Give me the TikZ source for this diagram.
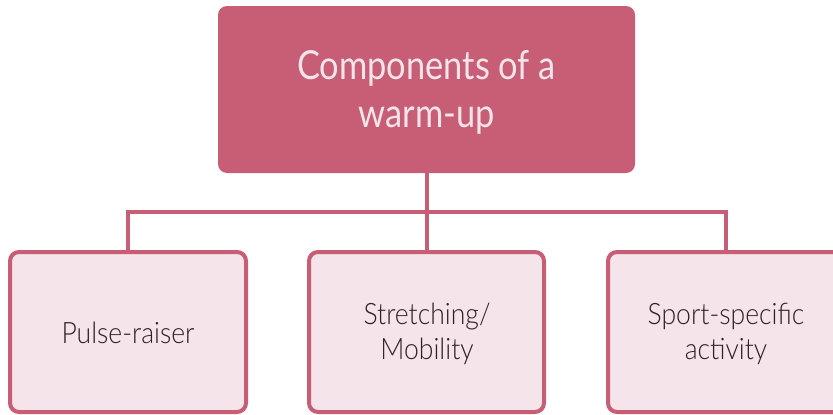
\documentclass[tikz,border=0pt]{standalone}
\usepackage{fontspec}
\setmainfont{Lato}
\newfontfamily\topfont[FakeStretch=0.86]{Lato}
\newfontfamily\botfont[FakeStretch=0.9]{Lato Light}
\definecolor{rose}{HTML}{C75E76}
\definecolor{paleRose}{HTML}{F5E4EA}
\definecolor{darkText}{HTML}{2B2127}
\tikzset{
  topbox/.style={fill=rose, draw=none, rounded corners=9pt},
  toptext/.style={text=paleRose, font=\topfont\fontsize{40}{48}\selectfont, align=center},
  childbox/.style={fill=paleRose, draw=rose, line width=4pt, rounded corners=9pt},
  childtext/.style={text=darkText, font=\botfont\fontsize{29.5}{35}\selectfont, align=center},
  link/.style={draw=rose, line width=4pt}
}
\begin{document}
\begin{tikzpicture}[x=1pt,y=-1pt]
\useasboundingbox (0,0) rectangle (833,415);
\clip (0,0) rectangle (833,415);
% top box
\path[topbox] (218,6) rectangle (635,173);
\node[toptext] (top) at (426.5,92) {Components of a\\warm-up};
\coordinate (tb) at (427,173);
% children
\path[childbox] (10,252) rectangle (246,412);
\node[childtext] (c1) at (128,333) {Pulse-raiser};
\path[childbox] (309,252) rectangle (544,412);
\node[childtext] (c2) at (427,334) {Stretching/\\Mobility};
\path[childbox] (608,252) rectangle (845,412);
\node[childtext] (c3) at (726,334) {Sport-specific\\activity};
\coordinate (t1) at (128,250);
\coordinate (t2) at (427,250);
\coordinate (t3) at (726,250);
\coordinate (h) at (427,212);
% connectors
\draw[link] (tb) -- (t2);
\draw[link] (t1) |- (h) -| (t3);
\end{tikzpicture}
\end{document}
